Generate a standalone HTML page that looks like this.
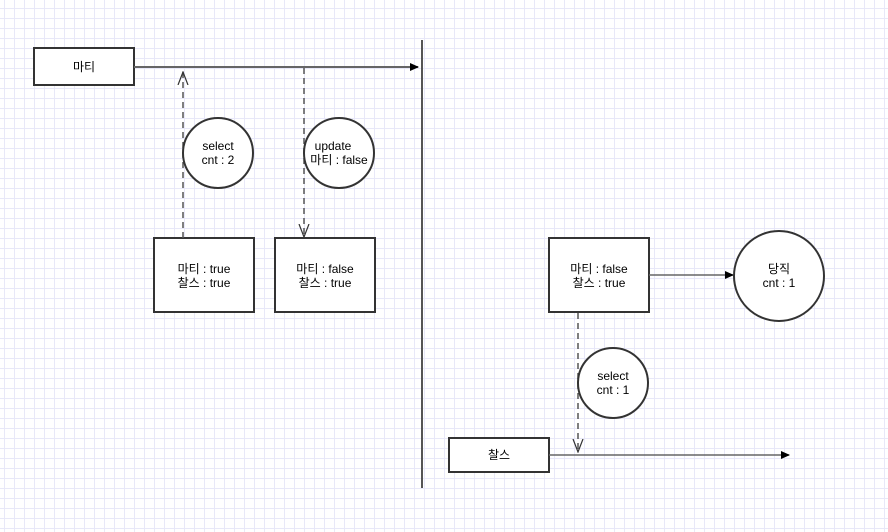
<!DOCTYPE html>
<html><head><meta charset="utf-8"><style>
html,body{margin:0;padding:0;background:#fff;}
body{width:888px;height:532px;overflow:hidden;
background-image:linear-gradient(to right,#e8e8f8 1px,transparent 1px),linear-gradient(to bottom,#e8e8f8 1px,transparent 1px);
background-size:10px 10px;background-position:4px 8px;}
svg text{font-family:"Liberation Sans","Noto Sans CJK KR",sans-serif;font-size:12px;fill:#000;text-anchor:middle;}
</style></head><body>
<svg width="888" height="532" xmlns="http://www.w3.org/2000/svg" style="position:absolute;left:0;top:0">
<defs>
<marker id="fa" markerWidth="10" markerHeight="10" refX="8" refY="5" orient="auto" markerUnits="userSpaceOnUse"><path d="M0,1 L9,5 L0,9 Z" fill="#000"/></marker>
<marker id="oa" markerWidth="14" markerHeight="14" refX="13" refY="7" orient="auto" markerUnits="userSpaceOnUse"><path d="M0,2 L13,7 L0,12" fill="none" stroke="#333" stroke-width="1.2"/></marker>
</defs>
<g stroke="#333" stroke-width="2" fill="#fff">
<rect x="34" y="48" width="100" height="37"/>
<rect x="154" y="238" width="100" height="74"/>
<rect x="275" y="238" width="100" height="74"/>
<rect x="549" y="238" width="100" height="74"/>
<rect x="449" y="438" width="100" height="34"/>
</g>
<line x1="422" y1="40" x2="422" y2="488" stroke="#555" stroke-width="2"/>
<line x1="134" y1="67" x2="418" y2="67" stroke="#666" stroke-width="2" marker-end="url(#fa)"/>
<line x1="649" y1="275" x2="733" y2="275" stroke="#666" stroke-width="1.5" marker-end="url(#fa)"/>
<line x1="549" y1="455" x2="789" y2="455" stroke="#666" stroke-width="1.5" marker-end="url(#fa)"/>
<g stroke="#555" stroke-width="1.5" stroke-dasharray="6,4" fill="none">
<line x1="183" y1="238" x2="183" y2="72" marker-end="url(#oa)"/>
<line x1="304" y1="68" x2="304" y2="237" marker-end="url(#oa)"/>
<line x1="578" y1="313" x2="578" y2="452" marker-end="url(#oa)"/>
</g>
<g stroke="#333" stroke-width="2" fill="#fff">
<circle cx="218" cy="153" r="35"/>
<circle cx="339" cy="153" r="35"/>
<circle cx="779" cy="276" r="45"/>
<circle cx="613" cy="383" r="35"/>
</g>
<text x="84" y="71">마티</text>
<text x="204" y="273">마티 : true</text><text x="204" y="287">찰스 : true</text>
<text x="325" y="273">마티 : false</text><text x="325" y="287">찰스 : true</text>
<text x="599" y="273">마티 : false</text><text x="599" y="287">찰스 : true</text>
<text x="499" y="459">찰스</text>
<text x="218" y="150">select</text><text x="218" y="164">cnt : 2</text>
<text x="333" y="150">update</text><text x="339" y="164">마티 : false</text>
<text x="779" y="273">당직</text><text x="779" y="287">cnt : 1</text>
<text x="613" y="380">select</text><text x="613" y="394">cnt : 1</text>
</svg>
</body></html>
